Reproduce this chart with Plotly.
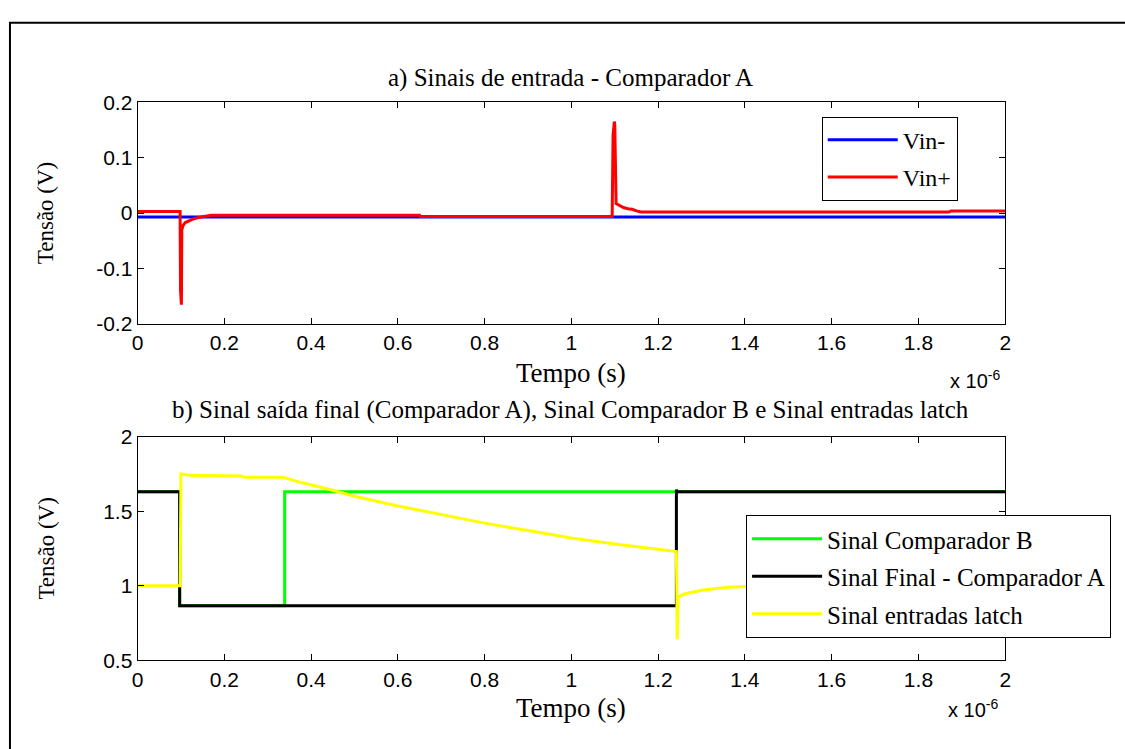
import plotly.graph_objects as go

# ---------------- data (time in units of 1e-6 s) ----------------
t_vin_minus = [0.0, 2.0]
vin_minus = [-0.007, -0.007]

t_vin_plus = [0.0, 0.098, 0.099, 0.101, 0.102, 0.105, 0.11, 0.12, 0.13, 0.14, 0.16, 0.17,
              0.65, 0.651, 1.094, 1.096, 1.099, 1.100, 1.103, 1.11, 1.12, 1.13, 1.14,
              1.15, 1.16, 1.87, 1.875, 2.0]
vin_plus = [0.003, 0.003, -0.14, -0.165, -0.03, -0.022, -0.017, -0.013, -0.01, -0.008, -0.005, -0.004,
            -0.004, -0.006, -0.006, 0.14, 0.165, 0.16, 0.017, 0.014, 0.01, 0.008, 0.007,
            0.004, 0.002, 0.002, 0.004, 0.004]

t_comp_b = [0.0, 0.097, 0.097, 0.339, 0.339, 2.0]
comp_b = [1.63, 1.63, 0.866, 0.866, 1.63, 1.63]

t_final_a = [0.0, 0.097, 0.097, 1.242, 1.242, 1.243, 2.0]
final_a = [1.63, 1.63, 0.866, 0.866, 1.645, 1.63, 1.63]

t_latch = [0.0, 0.098, 0.1, 0.12, 0.24, 0.245, 0.335, 0.38, 0.45, 0.5, 0.6, 0.7, 0.8, 0.9,
           1.0, 1.1, 1.2, 1.242, 1.244, 1.246, 1.26, 1.3, 1.36, 1.45, 1.6, 1.8, 2.0]
latch = [1.0, 1.0, 1.75, 1.74, 1.735, 1.727, 1.727, 1.69, 1.64, 1.60, 1.535, 1.475, 1.42, 1.37,
         1.32, 1.28, 1.245, 1.23, 0.64, 0.925, 0.945, 0.97, 0.99, 1.0, 1.0, 1.0, 1.0]

x_ticks = [0, 0.2, 0.4, 0.6, 0.8, 1.0, 1.2, 1.4, 1.6, 1.8, 2.0]
x_tick_labels = ["0", "0.2", "0.4", "0.6", "0.8", "1", "1.2", "1.4", "1.6", "1.8", "2"]
y1_ticks = [-0.2, -0.1, 0, 0.1, 0.2]
y1_tick_labels = ["-0.2", "-0.1", "0", "0.1", "0.2"]
y2_ticks = [0.5, 1.0, 1.5, 2.0]
y2_tick_labels = ["0.5", "1", "1.5", "2"]

title_a = "a) Sinais de entrada - Comparador A"
title_b = "b) Sinal saída final (Comparador A), Sinal Comparador B e Sinal entradas latch"

# ---------------- figure ----------------
W, H = 1125, 749
SERIF = "Liberation Serif"
SANS = "Liberation Sans"

def px(x):
    return x / W

def py(y):
    return 1 - y / H

fig = go.Figure()
fig.add_trace(go.Scatter(x=t_vin_minus, y=vin_minus, mode="lines", name="Vin-",
                         line=dict(color="#0000FF", width=3), xaxis="x", yaxis="y",
                         legend="legend", legendgroup="a1"))
fig.add_trace(go.Scatter(x=t_vin_plus, y=vin_plus, mode="lines", name="Vin+",
                         line=dict(color="#FF0000", width=3), xaxis="x", yaxis="y",
                         legend="legend", legendgroup="a2"))
fig.add_trace(go.Scatter(x=t_comp_b, y=comp_b, mode="lines", name="Sinal Comparador B",
                         line=dict(color="#00FF00", width=3), xaxis="x2", yaxis="y2",
                         legend="legend2", legendgroup="g1"))
fig.add_trace(go.Scatter(x=t_final_a, y=final_a, mode="lines", name="Sinal Final - Comparador A",
                         line=dict(color="#000000", width=3), xaxis="x2", yaxis="y2",
                         legend="legend2", legendgroup="g2"))
fig.add_trace(go.Scatter(x=t_latch, y=latch, mode="lines", name="Sinal entradas latch",
                         line=dict(color="#FFFF00", width=3), xaxis="x2", yaxis="y2",
                         legend="legend2", legendgroup="g3"))

axis_common = dict(showline=True, linecolor="black", linewidth=1, mirror="ticks",
                   ticks="inside", ticklen=6, tickcolor="black", showgrid=False, zeroline=False,
                   tickfont=dict(family=SANS, size=21, color="black"), fixedrange=True)

xdom = [px(133), px(1010)]
fig.update_layout(
    width=W, height=H,
    margin=dict(l=0, r=0, t=0, b=0),
    paper_bgcolor="white", plot_bgcolor="white",
    xaxis=dict(domain=xdom, range=[0, 2], tickvals=x_ticks, ticktext=x_tick_labels,
               anchor="y", **axis_common),
    yaxis=dict(domain=[py(322), py(93)], range=[-0.2, 0.2], tickvals=y1_ticks,
               ticktext=y1_tick_labels, anchor="x", **axis_common),
    xaxis2=dict(domain=xdom, range=[0, 2], tickvals=x_ticks, ticktext=x_tick_labels,
                anchor="y2", **axis_common),
    yaxis2=dict(domain=[py(669), py(438)], range=[0.5, 2.0], tickvals=y2_ticks,
                ticktext=y2_tick_labels, anchor="x2", **axis_common),
    legend=dict(x=px(962), y=py(108), xanchor="right", yanchor="top",
                bgcolor="white", bordercolor="black", borderwidth=1,
                tracegroupgap=3, itemwidth=70,
                font=dict(family=SERIF, size=24, color="black")),
    legend2=dict(x=px(1117), y=py(519), xanchor="right", yanchor="top",
                 bgcolor="white", bordercolor="black", borderwidth=1,
                 tracegroupgap=2, itemwidth=70,
                 font=dict(family=SERIF, size=25, color="black")),
    showlegend=True,
)

annots = [
    dict(text=title_a, x=px(571), y=py(68), font=dict(family=SERIF, size=25)),
    dict(text=title_b, x=px(571), y=py(411), font=dict(family=SERIF, size=25)),
    dict(text="Tempo (s)", x=px(571), y=py(372), font=dict(family=SERIF, size=27)),
    dict(text="Tempo (s)", x=px(571), y=py(718), font=dict(family=SERIF, size=27)),
    dict(text="Tensão (V)", x=px(40), y=py(207), textangle=-90, font=dict(family=SERIF, size=23)),
    dict(text="Tensão (V)", x=px(40), y=py(553), textangle=-90, font=dict(family=SERIF, size=23)),
    dict(text="x 10<sup>-6</sup>", x=px(979), y=py(379), font=dict(family=SANS, size=20)),
    dict(text="x 10<sup>-6</sup>", x=px(977), y=py(719), font=dict(family=SANS, size=20)),
]
for a in annots:
    a.update(xref="paper", yref="paper", showarrow=False, xanchor="center", yanchor="middle")
    a["font"]["color"] = "black"
fig.update_layout(annotations=annots)

# outer frame (top and left edges visible)
fig.add_shape(type="rect", xref="paper", yref="paper", x0=px(4), x1=1.02, y0=-0.02, y1=py(11),
              line=dict(color="black", width=2), layer="below")

fig.write_html("out.html", config={"displayModeBar": False},
               post_script="document.body.style.margin='0px';document.body.style.overflow='hidden';")
